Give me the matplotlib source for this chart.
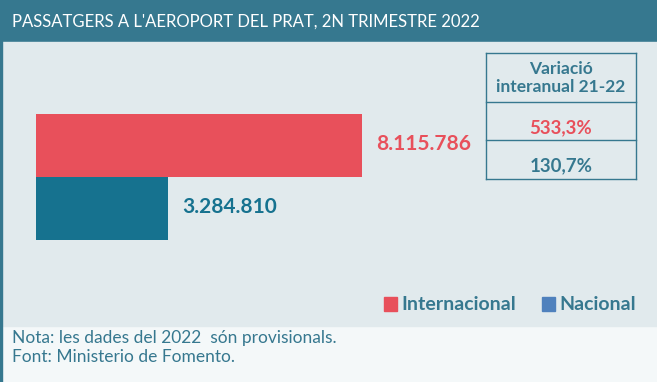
import matplotlib.pyplot as plt
from matplotlib.patches import Rectangle

categories = ["Nacional", "Internacional"]
passengers = [3284810, 8115786]
value_labels = ["3.284.810", "8.115.786"]
variation_labels = ["533,3%", "130,7%"]
title = "PASSATGERS A L'AEROPORT DEL PRAT, 2N TRIMESTRE 2022"
notes = ["Nota: les dades del 2022  són provisionals.", "Font: Ministerio de Fomento."]

W, H = 657, 382
TEAL = "#36788f"
RED = "#e8505b"
BLUE = "#16728f"
LEGEND_BLUE = "#4f81bd"
FONT = "Lato"


def fx(px):
    return px / W


def fy(py):
    return 1 - py / H


def main() -> None:
    fig = plt.figure(figsize=(W / 100, H / 100), dpi=100)
    fig.patch.set_facecolor("#f4f8f9")

    # background bands (behind the axes)
    fig.patches.append(Rectangle((0, fy(42)), 1, fy(0) - fy(42), transform=fig.transFigure,
                                 color=TEAL, zorder=-2))
    fig.patches.append(Rectangle((fx(2), fy(326)), 1, fy(42) - fy(326), transform=fig.transFigure,
                                 color="#e1eaed", zorder=-2))
    fig.patches.append(Rectangle((0, 0), fx(2), 1, transform=fig.transFigure, color=TEAL, zorder=-2))

    fig.text(fx(12), fy(22), title, color="white", fontsize=12, family=FONT,
             va="center", ha="left")

    # bars
    ax = fig.add_axes([fx(36), fy(240), fx(362) - fx(36), fy(114) - fy(240)])
    ax.patch.set_visible(False)
    colors = [BLUE, RED]
    ax.barh(range(len(categories)), passengers, height=1.0, color=colors)
    ax.set_xlim(0, max(passengers))
    ax.set_ylim(-0.5, 1.5)
    ax.axis("off")
    for i, (v, lab) in enumerate(zip(passengers, value_labels)):
        ax.annotate(lab, (v, i), xytext=(10, 1), textcoords="offset points",
                    color=colors[i], fontsize=15, fontweight="bold", family=FONT,
                    va="center", ha="left", annotation_clip=False)

    # variation table
    tl, tr = fx(486), fx(636)
    rows = [53, 102, 140, 179]
    for y in rows:
        fig.add_artist(plt.Line2D([tl, tr], [fy(y), fy(y)], color=TEAL, lw=1))
    for x in (tl, tr):
        fig.add_artist(plt.Line2D([x, x], [fy(rows[0]), fy(rows[-1])], color=TEAL, lw=1))
    fig.text((tl + tr) / 2, fy(78), "Variació\ninteranual 21-22", color=TEAL, fontsize=12.5,
             fontweight="bold", family=FONT, ha="center", va="center", linespacing=1.15)
    fig.text((tl + tr) / 2, fy(128), variation_labels[0], color=RED, fontsize=13.5,
             fontweight="bold", family=FONT, ha="center", va="center")
    fig.text((tl + tr) / 2, fy(166), variation_labels[1], color=TEAL, fontsize=13.5,
             fontweight="bold", family=FONT, ha="center", va="center")

    # legend
    for x0, lab, c in ((384, "Internacional", RED), (542, "Nacional", LEGEND_BLUE)):
        fig.patches.append(Rectangle((fx(x0), fy(311)), fx(13), fy(297) - fy(311),
                                     transform=fig.transFigure, color=c))
        fig.text(fx(x0 + 17), fy(304), lab, color=TEAL, fontsize=14, fontweight="bold",
                 family=FONT, ha="left", va="center")

    # notes
    fig.text(fx(12), fy(338), notes[0], color=TEAL, fontsize=12.5, family=FONT, va="center")
    fig.text(fx(12), fy(357), notes[1], color=TEAL, fontsize=12.5, family=FONT, va="center")

    fig.savefig("out.png", dpi=100, facecolor=fig.get_facecolor())


if __name__ == "__main__":
    main()
